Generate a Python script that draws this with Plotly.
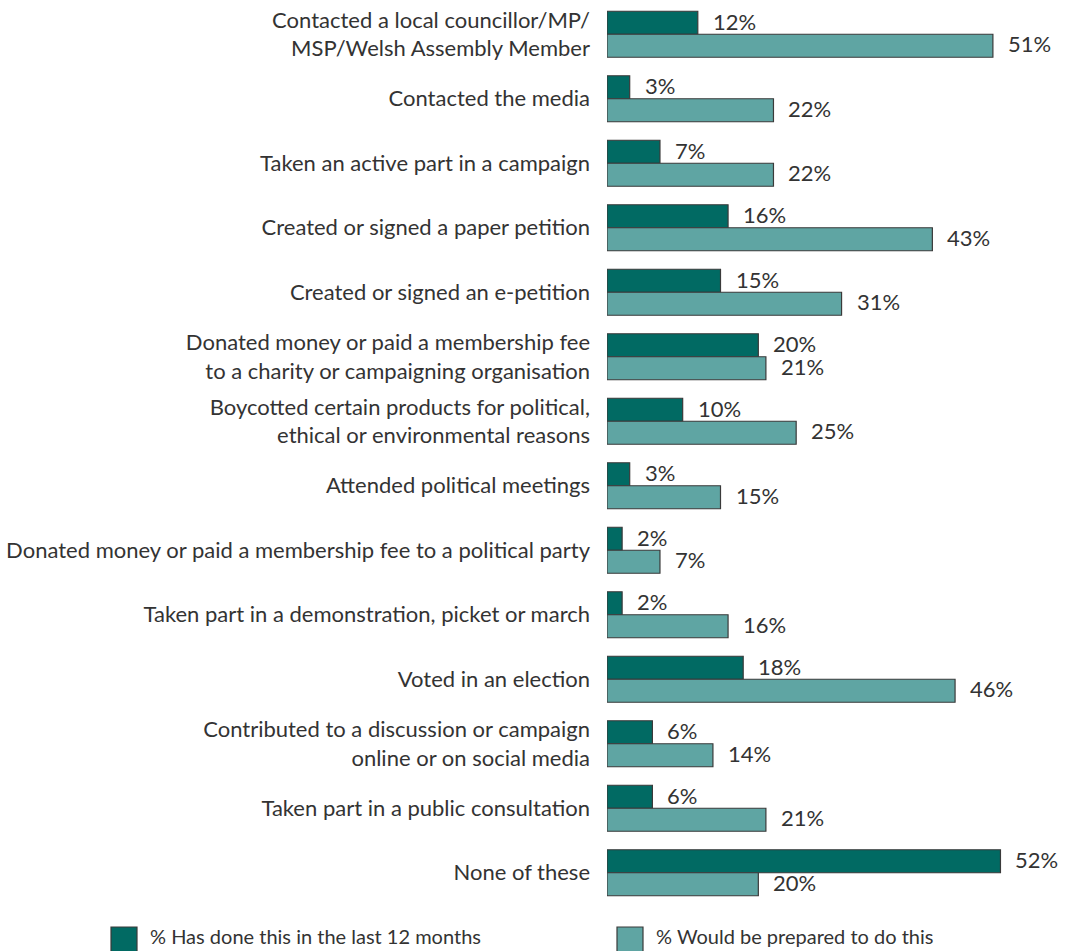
import plotly.graph_objects as go

# Survey: political actions taken vs. willingness to take them
categories = [
    "Contacted a local councillor/MP/<br>MSP/Welsh Assembly Member",
    "Contacted the media",
    "Taken an active part in a campaign",
    "Created or signed a paper petition",
    "Created or signed an e-petition",
    "Donated money or paid a membership fee<br>to a charity or campaigning organisation",
    "Boycotted certain products for political,<br>ethical or environmental reasons",
    "Attended political meetings",
    "Donated money or paid a membership fee to a political party",
    "Taken part in a demonstration, picket or march",
    "Voted in an election",
    "Contributed to a discussion or campaign<br>online or on social media",
    "Taken part in a public consultation",
    "None of these",
]
done_last_12_months = [12, 3, 7, 16, 15, 20, 10, 3, 2, 2, 18, 6, 6, 52]
would_be_prepared = [51, 22, 22, 43, 31, 21, 25, 15, 7, 16, 46, 14, 21, 20]

series_names = ["% Has done this in the last 12 months", "% Would be prepared to do this"]

DARK = "#016a63"
LIGHT = "#5fa5a3"
OUTLINE = "#3a3a3a"
TEXT = "#333333"
FONT = "Lato"
FS = 22
LEGEND_FS = 20

W, H = 1067, 951
M = dict(l=607, r=6, t=2, b=46)
PW = W - M["l"] - M["r"]
PH = H - M["t"] - M["b"]


def px_x(px):
    """Pixel column -> paper x."""
    return (px - M["l"]) / PW


def px_y(py):
    """Pixel row -> paper y."""
    return (H - M["b"] - py) / PH


fig = go.Figure()
for name, vals, col in [
    (series_names[0], done_last_12_months, DARK),
    (series_names[1], would_be_prepared, LIGHT),
]:
    fig.add_trace(go.Bar(
        y=categories, x=vals, name=name, orientation="h",
        marker=dict(color=col, line=dict(color=OUTLINE, width=1.2)),
        hoverinfo="skip", showlegend=False,
    ))

# value labels just past the end of each bar
annotations = []
for vals, shift in [(done_last_12_months, 13), (would_be_prepared, -9.5)]:
    for cat, v in zip(categories, vals):
        annotations.append(dict(
            x=v, y=cat, xref="x", yref="y", text=f"{v}%",
            showarrow=False, xanchor="left", yanchor="middle",
            xshift=13, yshift=shift,
            font=dict(family=FONT, size=FS, color=TEXT),
        ))

# legend: large square swatches with labels below the chart
shapes = []
for name, col, x0 in [(series_names[0], DARK, 111), (series_names[1], LIGHT, 617)]:
    shapes.append(dict(
        type="rect", xref="paper", yref="paper",
        x0=px_x(x0), x1=px_x(x0 + 26), y0=px_y(953), y1=px_y(927),
        fillcolor=col, line=dict(color=OUTLINE, width=1.2), layer="above",
    ))
    annotations.append(dict(
        x=px_x(x0 + 37), y=px_y(950), xref="paper", yref="paper",
        text=name, showarrow=False, xanchor="left", yanchor="bottom",
        font=dict(family=FONT, size=LEGEND_FS, color=TEXT),
    ))

fig.update_layout(
    width=W, height=H,
    margin=M,
    paper_bgcolor="white", plot_bgcolor="white",
    barmode="group", bargap=0.287, bargroupgap=0,
    font=dict(family=FONT, size=FS, color=TEXT),
    showlegend=False,
    annotations=annotations,
    shapes=shapes,
    xaxis=dict(range=[0, 60], visible=False, fixedrange=True),
    yaxis=dict(
        autorange="reversed", showgrid=False, zeroline=False, showline=False,
        ticks="", ticklabelstandoff=16, fixedrange=True,
        tickfont=dict(family=FONT, size=FS, color=TEXT),
    ),
)

fig.write_html("out.html")
